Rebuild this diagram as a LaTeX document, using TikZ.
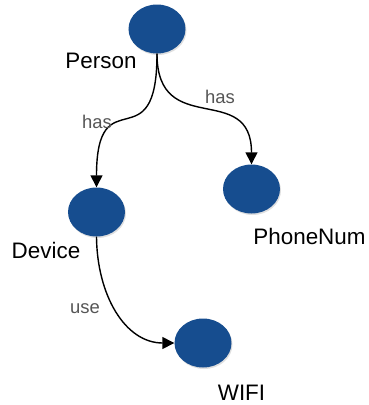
\documentclass[tikz,border=0pt]{standalone}
\usepackage{fontspec}
\setmainfont{Liberation Sans}
\usepackage{tikz}
\usetikzlibrary{positioning,arrows.meta,shapes.geometric,shadows}
\definecolor{entcolor}{RGB}{22,77,143}
\definecolor{relcolor}{RGB}{85,85,85}

\begin{document}
\begin{tikzpicture}[x=1bp,y=-1bp,
ent/.style={ellipse,fill=entcolor,minimum width=57bp,minimum height=49bp,inner sep=0pt,
  drop shadow={opacity=0.25,shadow xshift=1bp,shadow yshift=-1.5bp}},
lbl/.style={font=\fontsize{22.5}{24}\selectfont,text=black,inner sep=0pt},
rel/.style={font=\fontsize{18.5}{20}\selectfont,text=relcolor,inner sep=0pt},
arr/.style={-{Triangle[length=12bp,width=12bp]},line width=1.4bp}]
\useasboundingbox (0,0) rectangle (369,405);
% entities
\node[ent] (person) at (157,29) {};
\node[ent] (device) at (96.5,212) {};
\node[ent] (phone) at (251.5,189) {};
\node[ent] (wifi) at (203,343) {};
% entity names
\node[lbl] (personlbl) at (101,61) {Person};
\node[lbl] (devicelbl) at (46,250) {Device};
\node[lbl] (phonelbl) at (309.5,236) {PhoneNum};
\node[lbl] (wifilbl) at (241.5,393) {WIFI};
% relations
\draw[arr] (person.south) .. controls (157,165) and (96.5,75) .. (device.north);
\draw[arr] (person.south) .. controls (157,140) and (251.5,80) .. (phone.north);
\draw[arr] (device.south) .. controls (97,295) and (125,343) .. (wifi.west);
\node[rel] (has1) at (97,122) {has};
\node[rel] (has2) at (220,97) {has};
\node[rel] (use) at (85,309) {use};
\end{tikzpicture}
\end{document}
